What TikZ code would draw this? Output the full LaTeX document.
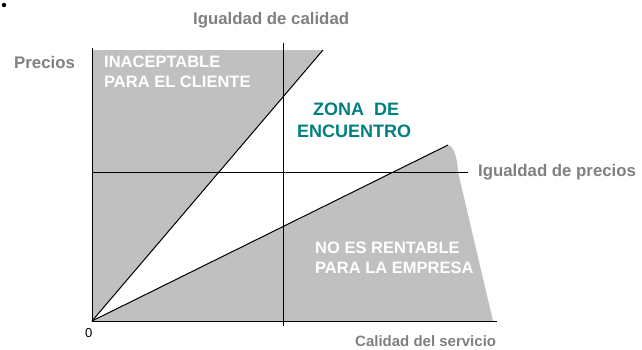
\documentclass[tikz,border=0pt]{standalone}
\usepackage{fontspec}
\setmainfont{Liberation Sans}
\definecolor{regiongray}{RGB}{192,192,192}
\definecolor{labelgray}{RGB}{128,128,128}
\definecolor{zoneteal}{RGB}{0,128,128}
\tikzset{
  axislabel/.style={text=labelgray, font=\fontsize{16.8}{17}\selectfont\bfseries, inner sep=0pt, anchor=base west},
  whitelabel/.style={text=white, font=\fontsize{16.5}{20}\selectfont\bfseries, inner sep=0pt, anchor=base west, align=left},
  zonelabel/.style={text=zoneteal, font=\fontsize{18}{22}\selectfont\bfseries, inner sep=0pt, anchor=base west, align=left},
  thinline/.style={draw=black, line width=1pt},
}
\begin{document}
\begin{tikzpicture}[x=1pt,y=-1pt]
\useasboundingbox (0,0) rectangle (642,349);
% key points
\coordinate (O) at (92,321);
\coordinate (Ytop) at (92,48);
\coordinate (Xend) at (497,321);
\coordinate (Utop) at (323,50);
\coordinate (Ltop) at (448,145);
\coordinate (Qtop) at (283,43);
\coordinate (Qbot) at (283,326);
\coordinate (Pleft) at (92,172);
\coordinate (Pright) at (468,172);
% shaded regions
\fill[regiongray] (O) -- (92,50) -- (Utop) -- cycle;
\fill[regiongray] (O) -- (Ltop) .. controls (454,147) and (457,156) .. (458,172) -- (493,321) -- cycle;
% lines
\draw[thinline] (O) -- (Utop);
\draw[thinline] (O) -- (Ltop);
\draw[thinline] (Qtop) -- (Qbot);
\draw[thinline] (Pleft) -- (Pright);
\draw[thinline] (Ytop) -- (O) -- (Xend);
% bullet
\fill[black] (4,5) circle (2.2);
% labels
\node[axislabel] (calidad) at (193,24) {Igualdad de calidad};
\node[axislabel] (precios) at (14,68) {Precios};
\node[axislabel] (iprecios) at (478,176) {Igualdad de precios};
\node[axislabel, font=\fontsize{15}{15}\selectfont\bfseries] (servicio) at (355,346) {Calidad del servicio};
\node[inner sep=0pt, anchor=base west, font=\fontsize{13}{13}\selectfont] (cero) at (85,337) {0};
\node[whitelabel] (inacept) at (104,87) {INACEPTABLE\\PARA EL CLIENTE};
\node[whitelabel] (norent) at (315,273) {NO ES RENTABLE\\PARA LA EMPRESA};
\node[zonelabel] (zona1) at (313,115) {ZONA\ \ DE};
\node[zonelabel] (zona2) at (297,137) {ENCUENTRO};
\end{tikzpicture}
\end{document}
